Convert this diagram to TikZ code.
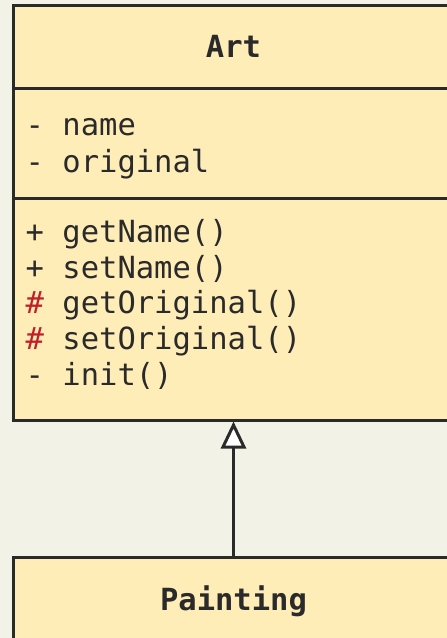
\documentclass[tikz,border=0pt]{standalone}
\usepackage{fontspec}
\setmonofont{DejaVu Sans Mono}
\usetikzlibrary{arrows.meta}
\definecolor{bgc}{HTML}{F3F2E6}
\definecolor{boxfill}{HTML}{FFEDB8}
\definecolor{linec}{HTML}{2A2A2A}
\definecolor{umlred}{HTML}{C0202A}
\begin{document}
\begin{tikzpicture}[x=1pt,y=-1pt,
  classbox/.style={draw=linec, fill=boxfill, line width=3pt, rectangle, inner sep=0pt},
  member/.style={anchor=base west, inner sep=0pt, font=\fontsize{30.5}{36}\selectfont\ttfamily, text=linec},
  title/.style={anchor=base, inner sep=0pt, font=\fontsize{30.5}{36}\selectfont\ttfamily\bfseries, text=linec},
  inherit/.style={draw=linec, line width=3pt, -{Triangle[open, fill=white, length=27pt, width=25pt, line width=3pt]}}]
\fill[bgc] (0,0) rectangle (447,638);
\useasboundingbox (0,0) rectangle (447,638);
% Art class
\node[classbox, minimum width=441pt, minimum height=415pt] (art) at (233.5,212.5) {};
\draw[linec, line width=3pt] (13,88) -- (454,88);
\draw[linec, line width=3pt] (13,198) -- (454,198);
\node[title] (artname) at (233.5,57) {Art};
\node[member] (a1) at (25.5,135) {- name};
\node[member] (a2) at (25.5,172) {- original};
\node[member] (m1) at (25.5,242) {+ getName()};
\node[member] (m2) at (25.5,278) {+ setName()};
\node[member] (m3) at (25.5,313) {{\color{umlred}\#} getOriginal()};
\node[member] (m4) at (25.5,349) {{\color{umlred}\#} setOriginal()};
\node[member] (m5) at (25.5,385) {- init()};
% Painting class
\node[classbox, minimum width=441pt, minimum height=160pt] (painting) at (233.5,637) {};
\node[title] (paintname) at (233.5,610) {Painting};
% inheritance
\draw[inherit] (painting.north) -- (art.south);
\end{tikzpicture}
\end{document}
